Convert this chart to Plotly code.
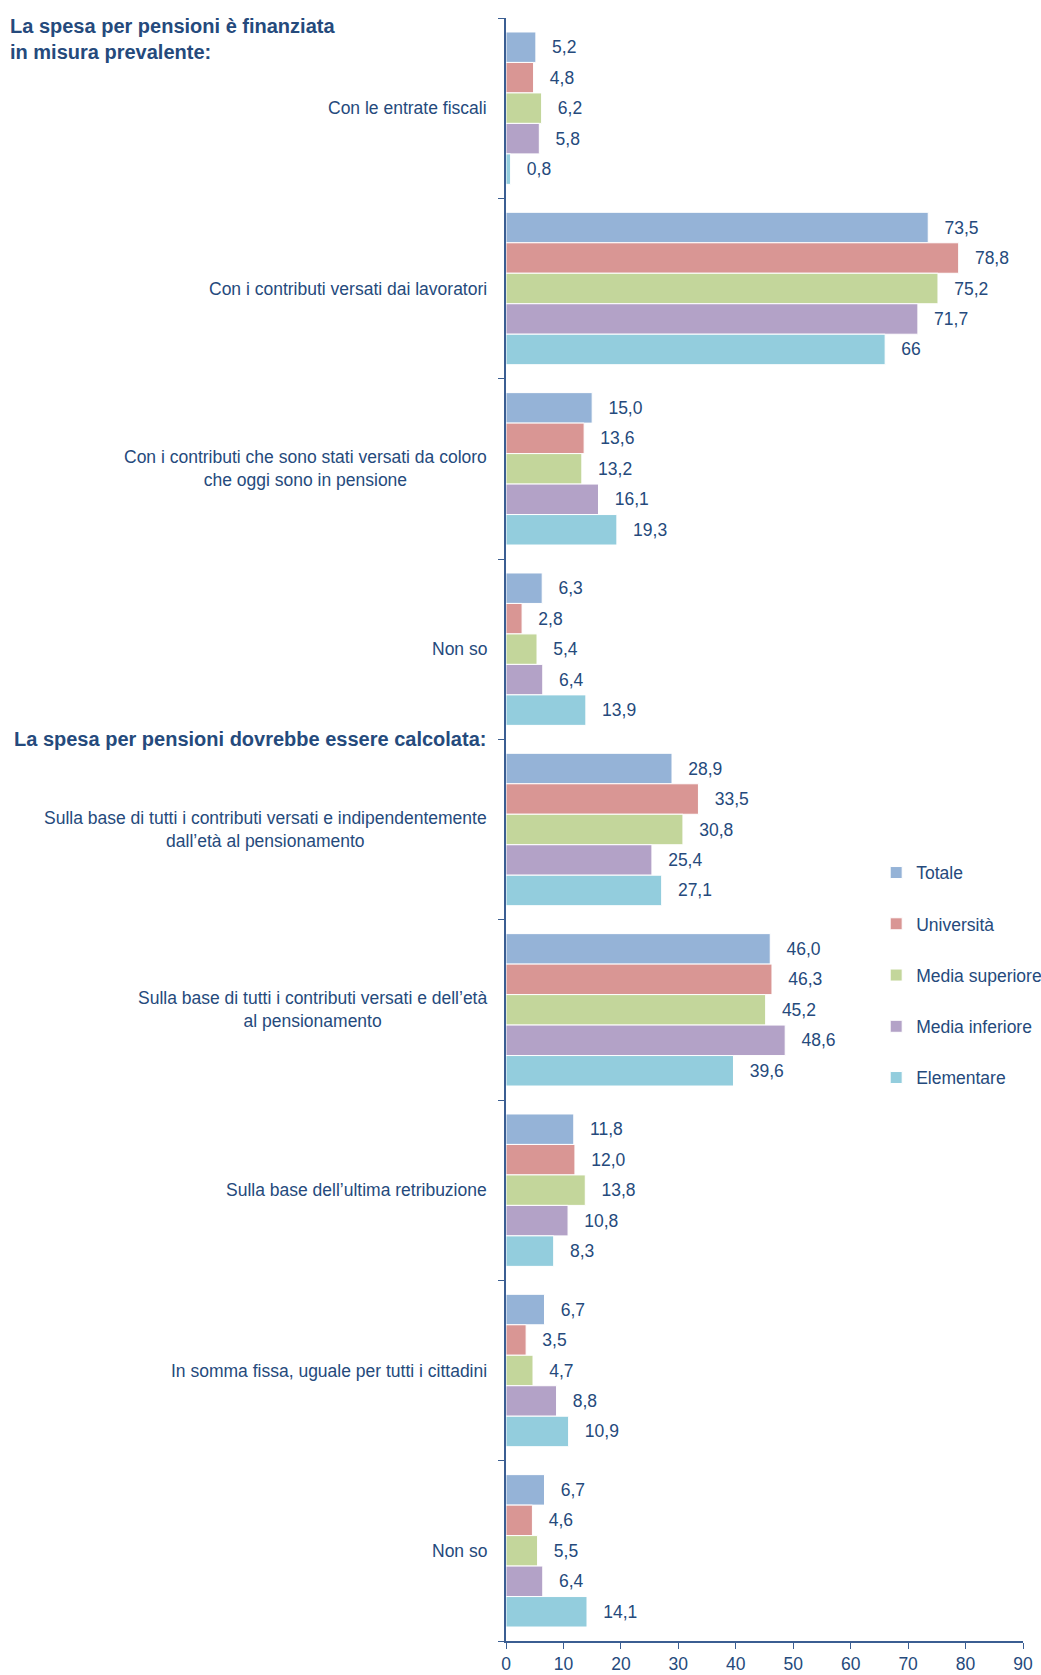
import plotly.graph_objects as go

categories = [
    "Con le entrate fiscali",
    "Con i contributi versati dai lavoratori",
    "Con i contributi che sono stati versati da coloro<br>che oggi sono in pensione",
    "Non so",
    "Sulla base di tutti i contributi versati e indipendentemente<br>dall’età al pensionamento",
    "Sulla base di tutti i contributi versati e dell’età<br>al pensionamento",
    "Sulla base dell’ultima retribuzione",
    "In somma fissa, uguale per tutti i cittadini",
    "Non so",
]
header_1 = "La spesa per pensioni è finanziata<br>in misura prevalente:"
header_2 = "La spesa per pensioni dovrebbe essere calcolata:"
header_2_after_index = 3

series_names = ["Totale", "Università", "Media superiore", "Media inferiore", "Elementare"]
totale = ["5,2", "73,5", "15,0", "6,3", "28,9", "46,0", "11,8", "6,7", "6,7"]
universita = ["4,8", "78,8", "13,6", "2,8", "33,5", "46,3", "12,0", "3,5", "4,6"]
media_superiore = ["6,2", "75,2", "13,2", "5,4", "30,8", "45,2", "13,8", "4,7", "5,5"]
media_inferiore = ["5,8", "71,7", "16,1", "6,4", "25,4", "48,6", "10,8", "8,8", "6,4"]
elementare = ["0,8", "66", "19,3", "13,9", "27,1", "39,6", "8,3", "10,9", "14,1"]
x_ticks = [0, 10, 20, 30, 40, 50, 60, 70, 80, 90]

series_labels = [totale, universita, media_superiore, media_inferiore, elementare]
colors = ["#95B3D7", "#D99694", "#C3D69B", "#B3A2C7", "#93CDDD"]

TEXT = "#254A7C"
AXIS = "#3B5E92"
FONT = "Liberation Sans, Arial"
FS = 17.5

W, H = 1041, 1675
L, R, T, B = 506, 18, 18, 34

ypos = list(range(len(categories)))

fig = go.Figure()
for name, labels, col in zip(series_names, series_labels, colors):
    vals = [float(s.replace(",", ".")) for s in labels]
    fig.add_trace(go.Bar(
        x=vals, y=ypos, orientation="h", name=name,
        marker=dict(color=col, line=dict(color="white", width=1)),
        text=["\u00a0\u00a0\u2009" + s for s in labels],
        textposition="outside", constraintext="none", cliponaxis=False,
        textfont=dict(family=FONT, size=FS, color=TEXT),
        legendgroup=name,
    ))

annotations = []
for i, cat in enumerate(categories):
    annotations.append(dict(
        text=cat, xref="paper", x=0, xanchor="right", xshift=-17,
        yref="y", y=i, yanchor="middle", align="center", showarrow=False,
        font=dict(family=FONT, size=FS, color=TEXT),
    ))
annotations.append(dict(
    text="<b>" + header_2 + "</b>", xref="paper", x=0, xanchor="right", xshift=-18,
    yref="y", y=header_2_after_index + 0.5, yanchor="middle", showarrow=False,
    font=dict(family=FONT, size=20, color=TEXT),
))

fig.update_layout(
    width=W, height=H,
    margin=dict(l=L, r=R, t=T, b=B, pad=0, autoexpand=False),
    paper_bgcolor="white", plot_bgcolor="white",
    barmode="group", bargap=0.155, bargroupgap=0,
    font=dict(family=FONT, size=FS, color=TEXT),
    title=dict(text="<b>" + header_1 + "</b>", xref="container", x=10 / W, xanchor="left",
               yref="container", y=1 - 33 / H, yanchor="top",
               font=dict(family=FONT, size=20, color=TEXT)),
    showlegend=True,
    legend=dict(x=0.716, xanchor="left", y=0.4845, yanchor="top",
                tracegroupgap=25.5, font=dict(family=FONT, size=FS, color=TEXT),
                bgcolor="rgba(0,0,0,0)"),
    annotations=annotations,
    xaxis=dict(range=[0, 90], tickvals=x_ticks, ticks="outside", ticklen=6,
               tickcolor=AXIS, showline=True, linecolor=AXIS, linewidth=1.5,
               showgrid=False, zeroline=False,
               tickfont=dict(family=FONT, size=FS, color=TEXT)),
    yaxis=dict(range=[len(categories) - 0.5, -0.5], tickvals=ypos,
               showticklabels=False, ticks="", showline=True, linecolor=AXIS,
               linewidth=1.5, showgrid=False, zeroline=False,
               minor=dict(tickvals=[i - 0.5 for i in range(len(categories) + 1)],
                          ticks="outside", ticklen=6, tickcolor=AXIS, showgrid=False)),
)

fig.write_html(
    "out.html",
    config={"displayModeBar": False},
    post_script="document.body.style.margin='0';document.documentElement.style.overflow='hidden';",
)
